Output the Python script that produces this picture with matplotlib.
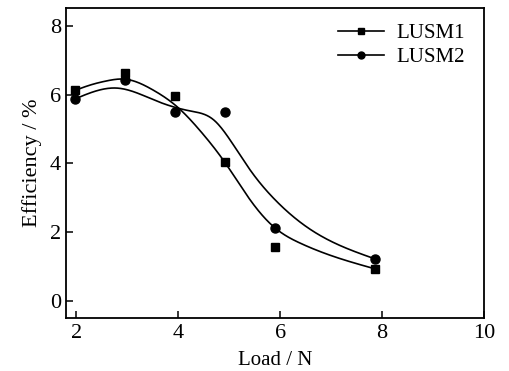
import numpy as np
import matplotlib
matplotlib.use("Agg")
import matplotlib.pyplot as plt

plt.rcParams['font.family'] = ['Liberation Serif', 'DejaVu Serif']

# measured points
carga = [1.97, 2.95, 3.93, 4.91, 5.90, 7.86]
lusm1 = [6.12, 6.63, 5.95, 4.05, 1.58, 0.93]
lusm2 = [5.87, 6.43, 5.48, 5.49, 2.12, 1.21]

# fitted curves (knots)
curva1_x = [1.97, 2.3, 2.6, 2.95, 3.5, 4.0, 4.43, 4.92, 5.41, 5.9, 6.39, 7.05, 7.86]
curva1_y = [6.12, 6.29, 6.40, 6.45, 6.14, 5.62, 4.95, 4.02, 2.94, 2.12, 1.68, 1.29, 0.93]
curva2_x = [1.97, 2.8, 3.6, 4.25, 4.7, 5.0, 5.41, 5.9, 6.6, 7.86]
curva2_y = [5.87, 6.19, 5.80, 5.52, 5.26, 4.72, 3.81, 2.94, 2.07, 1.22]


def spline(xk, yk, n=400):
    # spline cubica natural, solo para suavizar el trazo
    xk = np.asarray(xk, float)
    yk = np.asarray(yk, float)
    m = len(xk)
    h = np.diff(xk)
    A = np.zeros((m, m))
    b = np.zeros(m)
    A[0, 0] = A[-1, -1] = 1
    for i in range(1, m - 1):
        A[i, i - 1] = h[i - 1]
        A[i, i] = 2 * (h[i - 1] + h[i])
        A[i, i + 1] = h[i]
        b[i] = 6 * ((yk[i + 1] - yk[i]) / h[i] - (yk[i] - yk[i - 1]) / h[i - 1])
    M = np.linalg.solve(A, b)
    xs = np.linspace(xk[0], xk[-1], n)
    j = np.clip(np.searchsorted(xk, xs) - 1, 0, m - 2)
    t0 = xk[j + 1] - xs
    t1 = xs - xk[j]
    ys = (M[j] * t0**3 + M[j + 1] * t1**3) / (6 * h[j]) \
        + (yk[j] / h[j] - M[j] * h[j] / 6) * t0 \
        + (yk[j + 1] / h[j] - M[j + 1] * h[j] / 6) * t1
    return xs, ys


fig = plt.figure(figsize=(5.09, 3.71), dpi=100)
ax = fig.add_axes([0.1297, 0.1429, 0.8213, 0.8355])

x1, y1 = spline(curva1_x, curva1_y)
x2, y2 = spline(curva2_x, curva2_y)
ax.plot(x1, y1, color='black', lw=1.2)
ax.plot(x2, y2, color='black', lw=1.2)
ax.plot(carga, lusm1, 's', color='black', ms=6)
ax.plot(carga, lusm2, 'o', color='black', ms=6.5)

# handles de la leyenda
h1, = ax.plot([], [], '-s', color='black', lw=1.2, ms=4.5, label='LUSM1')
h2, = ax.plot([], [], '-o', color='black', lw=1.2, ms=5, label='LUSM2')
ax.legend(handles=[h1, h2], loc='upper right', frameon=False, fontsize=15,
          handlelength=2.2, handletextpad=0.6, labelspacing=0.2,
          borderaxespad=0.2, bbox_to_anchor=(0.985, 0.99))

ax.set_xlim(1.8, 10)
ax.set_ylim(-0.5, 8.52)
ax.set_xticks([2, 4, 6, 8, 10])
ax.set_yticks([0, 2, 4, 6, 8])
ax.tick_params(direction='in', length=5, width=1.1, labelsize=16, top=False, right=False)
ax.tick_params(axis='x', pad=4)
for s in ax.spines.values():
    s.set_linewidth(1.3)

ax.set_xlabel("Load / N", fontsize=15, labelpad=6)
ax.set_ylabel("Efficiency / %", fontsize=16, labelpad=6)

fig.savefig("out.png", dpi=100)
